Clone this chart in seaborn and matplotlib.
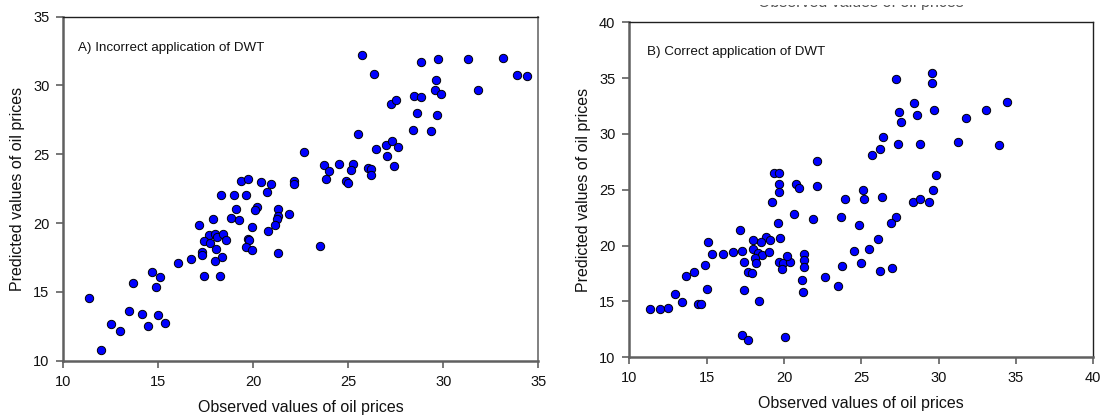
import matplotlib
matplotlib.use("Agg")
import matplotlib.pyplot as plt
from matplotlib.patches import Rectangle
import seaborn as sns
import pandas as pd

# Observed vs. predicted oil prices, panel A (incorrect DWT application)
obs_a = [22.68, 19.35, 19.70, 20.40, 20.93, 22.16, 22.16, 18.30, 19.00, 19.62,
         20.70, 19.09, 20.18, 20.09, 21.28, 21.28, 21.23, 21.88, 18.83, 19.25,
         17.89, 17.14, 19.95, 21.14, 20.79, 17.67, 17.98, 18.07, 18.42, 18.55,
         17.41, 17.72, 19.70, 19.79, 19.62, 19.92, 18.02, 17.32, 17.32, 18.37,
         18.00, 21.32, 16.71, 16.02, 17.41, 18.23, 14.67, 15.09, 13.68, 14.88,
         11.34, 13.44, 14.14, 15.00, 12.49, 12.98, 14.44, 15.34, 11.98, 25.72,
         26.35, 28.81, 29.72, 31.28, 33.13, 33.89, 34.42, 29.62, 29.58, 29.86,
         31.83, 28.44, 28.84, 27.25, 27.51, 28.63, 29.65, 28.39, 29.37, 25.51,
         26.44, 26.97, 27.28, 27.60, 27.04, 27.39, 23.70, 23.98, 24.53, 25.23,
         25.13, 26.05, 26.18, 26.20, 23.81, 24.88, 25.00, 23.51]
pred_a = [25.20, 23.09, 23.17, 22.97, 22.85, 23.09, 22.85, 22.01, 22.01, 22.01,
          22.25, 20.99, 21.16, 20.92, 21.04, 20.49, 20.29, 20.68, 20.36, 20.20,
          20.29, 19.88, 19.69, 19.85, 19.45, 19.11, 19.23, 18.99, 19.18, 18.75,
          18.72, 18.55, 18.87, 18.75, 18.26, 18.07, 18.12, 17.90, 17.66, 17.56,
          17.25, 17.85, 17.37, 17.13, 16.12, 16.19, 16.48, 16.09, 15.65, 15.36,
          14.59, 13.60, 13.41, 13.33, 12.66, 12.15, 12.51, 12.75, 10.80, 32.22,
          30.85, 31.74, 31.91, 31.93, 32.03, 30.77, 30.68, 30.41, 29.69, 29.38,
          29.69, 29.25, 29.13, 28.65, 28.94, 27.97, 27.88, 26.77, 26.72, 26.45,
          25.39, 25.70, 25.99, 25.56, 24.85, 24.16, 24.23, 23.77, 24.33, 24.27,
          23.89, 23.98, 23.94, 23.46, 23.17, 23.09, 22.90, 18.31]

# Panel B (correct DWT application)
obs_b = [22.15, 19.35, 19.66, 19.70, 19.70, 20.78, 20.95, 22.15, 19.22, 23.96,
         25.09, 25.19, 20.67, 21.85, 23.66, 27.24, 29.59, 29.59, 28.42, 27.45,
         27.56, 28.60, 29.68, 31.78, 33.08, 34.41, 26.40, 26.19, 25.69, 27.35,
         28.77, 31.23, 33.88, 29.83, 29.65, 26.33, 28.36, 28.81, 29.35, 27.24,
         19.63, 17.14, 19.76, 18.84, 19.09, 18.00, 18.53, 15.09, 17.28, 18.00,
         18.32, 18.56, 19.03, 18.11, 17.39, 18.21, 15.33, 16.04, 16.70, 14.87,
         14.16, 13.68, 17.67, 17.95, 19.68, 19.92, 20.41, 20.17, 19.87, 21.29,
         21.29, 21.29, 21.14, 21.25, 22.65, 23.49, 23.77, 24.51, 24.85, 24.98,
         15.00, 12.97, 13.43, 14.42, 14.63, 11.32, 11.97, 12.50, 17.41, 18.36,
         17.28, 17.69, 20.06, 26.94, 26.10, 25.51, 26.19, 27.00]
pred_b = [27.60, 26.53, 26.53, 25.52, 24.80, 25.49, 25.18, 25.34, 23.90, 24.20,
          24.98, 24.20, 22.80, 22.38, 22.59, 34.89, 35.48, 34.58, 32.79, 31.99,
          31.09, 31.69, 32.11, 31.45, 32.14, 32.88, 29.70, 28.68, 28.09, 29.07,
          29.10, 29.25, 29.03, 26.32, 24.98, 24.32, 23.88, 24.15, 23.90, 22.53,
          22.00, 21.37, 20.71, 20.80, 20.50, 20.47, 20.35, 20.35, 19.54, 19.67,
          19.36, 19.16, 19.45, 18.92, 18.56, 18.42, 19.25, 19.22, 19.43, 18.29,
          17.64, 17.25, 17.66, 17.57, 18.53, 18.44, 18.53, 19.04, 17.91, 19.22,
          18.71, 18.11, 16.92, 15.82, 17.16, 16.41, 18.15, 19.54, 21.84, 18.47,
          16.14, 15.64, 14.98, 14.75, 14.75, 14.30, 14.35, 14.39, 16.05, 15.04,
          12.02, 11.58, 11.82, 22.00, 20.59, 19.67, 17.73, 17.97]

titles = ["A) Incorrect application of DWT", "B) Correct application of DWT"]
x_ticks_a = [10, 15, 20, 25, 30, 35]
y_ticks_a = [10, 15, 20, 25, 30, 35]
x_ticks_b = [10, 15, 20, 25, 30, 35, 40]
y_ticks_b = [10, 15, 20, 25, 30, 35, 40]
xlabel = "Observed values of oil prices"
ylabel = "Predicted values of oil prices"

sns.set_style("white")
plt.rcParams["font.family"] = ["Liberation Sans", "DejaVu Sans"]

fig = plt.figure(figsize=(11.01, 4.17), dpi=100)
ax_a = fig.add_axes([0.0575, 0.135, 0.4314, 0.825])
ax_b = fig.add_axes([0.5716, 0.1432, 0.4214, 0.8034])

df_a = pd.DataFrame({"obs": obs_a, "pred": pred_a})
df_b = pd.DataFrame({"obs": obs_b, "pred": pred_b})

panels = [
    (ax_a, df_a, x_ticks_a, y_ticks_a, (10, 35), (10, 35), titles[0], "#808080", 0.03),
    (ax_b, df_b, x_ticks_b, y_ticks_b, (10, 40), (10, 40), titles[1], "#202020", 0.038),
]

for ax, df, xt, yt, xl, yl, title, right_col, tx in panels:
    sns.scatterplot(data=df, x="obs", y="pred", ax=ax, s=36, color="#0000FF",
                    edgecolor="black", linewidth=0.7, zorder=3, clip_on=False)
    ax.set_xlim(*xl)
    ax.set_ylim(*yl)
    ax.set_xticks(xt)
    ax.set_yticks(yt)
    ax.set_xlabel(xlabel, fontsize=11.5, labelpad=8, color="#111111")
    ax.set_ylabel(ylabel, fontsize=11.5, labelpad=6, color="#111111")
    ax.tick_params(axis="both", which="major", direction="out", length=5,
                   width=1.2, color="#606060", labelsize=10.5, pad=5,
                   bottom=True, left=True, top=False, right=False,
                   labelcolor="#111111")
    for side in ("left", "bottom"):
        ax.spines[side].set_color("#606060")
        ax.spines[side].set_linewidth(1.8)
    ax.spines["top"].set_color("#202020")
    ax.spines["top"].set_linewidth(1.0)
    ax.spines["right"].set_color(right_col)
    ax.spines["right"].set_linewidth(1.4 if right_col == "#808080" else 1.0)
    ax.text(tx, 0.91, title, transform=ax.transAxes, fontsize=9.6,
            ha="left", va="center", color="#111111")
    ax.grid(False)

# Axis title of the upper figure, mostly hidden above the top edge
fig.text(861 / 1101, 1 - 7 / 417, xlabel, fontsize=11.5, ha="center",
         va="baseline", color="#555555", zorder=1)
fig.patches.append(Rectangle((0.6, 1 - 5 / 417), 0.3, 5 / 417,
                             transform=fig.transFigure, facecolor="white",
                             edgecolor="none", zorder=5))

fig.savefig("out.png", dpi=100)
